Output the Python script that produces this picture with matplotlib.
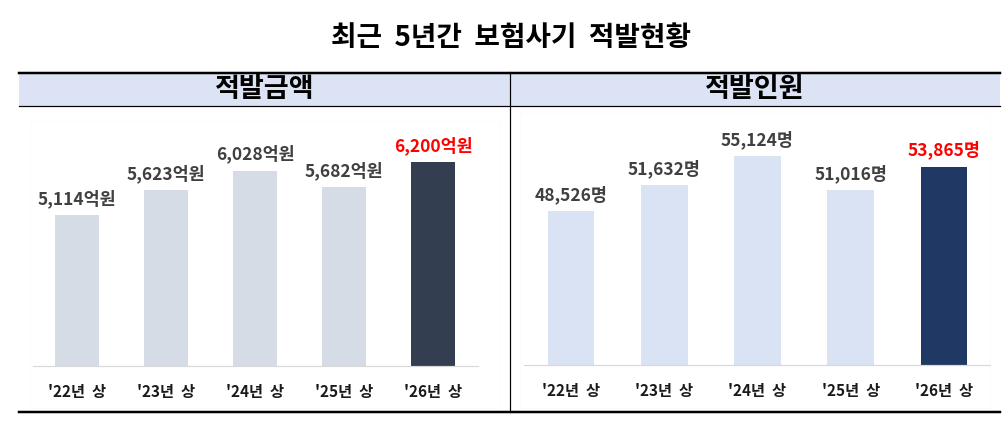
import matplotlib
matplotlib.use("Agg")
import matplotlib.pyplot as plt
from matplotlib.patches import Rectangle
from matplotlib.lines import Line2D

plt.rcParams['font.family'] = ['Noto Sans CJK KR', 'DejaVu Sans']

# ---- data ----
title = "최근  5년간  보험사기  적발현황"
categories = ["'22년  상", "'23년  상", "'24년  상", "'25년  상", "'26년  상"]
amount_title = "적발금액"
amount_values = [5114, 5623, 6028, 5682, 6200]   # 억원
people_title = "적발인원"
people_values = [48526, 51632, 55124, 51016, 53865]  # 명

W, H = 1007, 432
fig = plt.figure(figsize=(W / 100, H / 100), dpi=100)

# background axes in pixel coordinates
bg = fig.add_axes([0, 0, 1, 1], zorder=0)
bg.set_xlim(0, W)
bg.set_ylim(H, 0)
bg.axis('off')

def px(v):
    return v * 0.72  # pixel -> points at 100 dpi

# header band
bg.add_patch(Rectangle((19, 73), 981, 33, facecolor='#DCE3F4', edgecolor='none'))
# very faint chart area frames
bg.add_patch(Rectangle((30, 121), 469, 287, facecolor='none', edgecolor='#FBFBFB', lw=px(1)))
bg.add_patch(Rectangle((520, 113), 470, 295, facecolor='none', edgecolor='#FBFBFB', lw=px(1)))
# lines
bg.add_line(Line2D([19, 1000], [72.5, 72.5], color='black', lw=px(2.5)))
bg.add_line(Line2D([19, 1000], [106, 106], color='black', lw=px(1.2)))
bg.add_line(Line2D([510, 510], [72, 412], color='black', lw=px(1.2)))
bg.add_line(Line2D([19, 1000], [412, 412], color='black', lw=px(2.5)))

bg.text(511, 38, title, ha='center', va='center', fontsize=20,
        fontweight='bold', color='black')
bg.text(264.5, 89, amount_title, ha='center', va='center', fontsize=19.5,
        fontweight='bold', color='black')
bg.text(755, 89, people_title, ha='center', va='center', fontsize=19.5,
        fontweight='bold', color='black')

def make_panel(left_px, width_px, base_px, height_px, values, ymin, ymax,
               light, dark, unit):
    ax = fig.add_axes([left_px / W, (H - base_px) / H, width_px / W, height_px / H],
                      zorder=1)
    ax.patch.set_alpha(0)
    x = list(range(len(values)))
    colors = [light] * (len(values) - 1) + [dark]
    ax.bar(x, values, width=0.5, color=colors, bottom=0)
    ax.set_xlim(-0.5, len(values) - 0.5)
    ax.set_ylim(ymin, ymax)
    for s in ['top', 'right', 'left']:
        ax.spines[s].set_visible(False)
    ax.spines['bottom'].set_color('#D9D9D9')
    ax.spines['bottom'].set_linewidth(px(1.2))
    ax.set_yticks([])
    ax.set_xticks(x)
    ax.set_xticklabels(categories, fontsize=11, fontweight='bold', color='#1A1A1A')
    ax.tick_params(axis='x', length=0, pad=13)
    for i, v in enumerate(values):
        last = i == len(values) - 1
        ax.annotate(f"{v:,}{unit}", (i, v), xytext=(0, 5), textcoords='offset points',
                    ha='center', va='bottom', fontsize=12.5, fontweight='bold',
                    color='#FF0000' if last else '#404040')
    return ax

make_panel(32.5, 445, 366, 242.5, amount_values, 2000, 7000,
           '#D6DCE5', '#333F50', '억원')
make_panel(524.4, 466, 365, 249.4, people_values, 30000, 60000,
           '#DAE3F3', '#203864', '명')

fig.savefig('out.png', dpi=100)
